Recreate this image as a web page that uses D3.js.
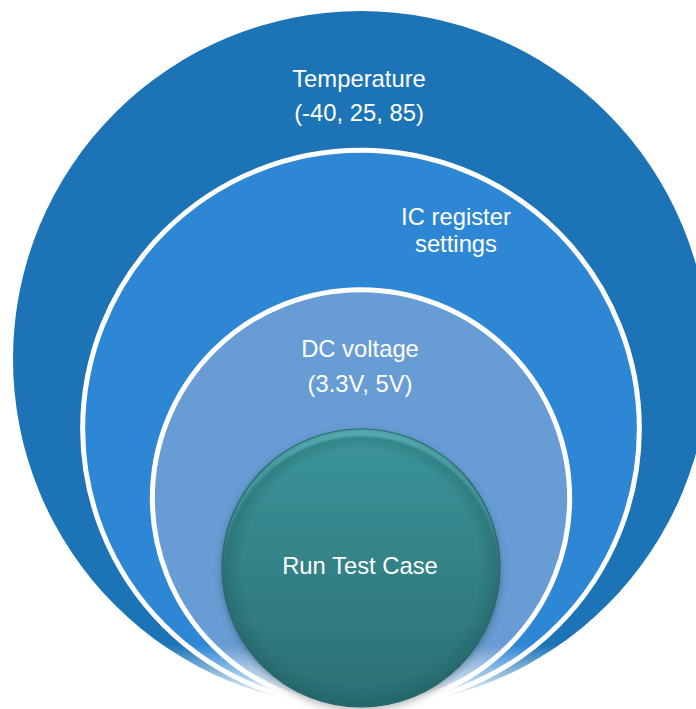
<!DOCTYPE html>
<html>
<head>
<meta charset="utf-8">
<script src="https://cdn.jsdelivr.net/npm/d3@7"></script>
<style>
  html, body { margin: 0; padding: 0; background: #ffffff; }
  svg { display: block; }
  text { font-family: "Liberation Sans", Arial, sans-serif; fill: #ffffff; }
</style>
</head>
<body>
<svg id="chart" width="696" height="709"></svg>
<script>
// Nested test scopes, outermost first
const levels = ["Temperature", "IC register settings", "DC voltage", "Run Test Case"];
const labelLines = [
  ["Temperature", "(-40, 25, 85)"],
  ["IC register", "settings"],
  ["DC voltage", "(3.3V, 5V)"],
  ["Run Test Case"]
];
const levelFills = ["#1c74b6", "#2e87d4", "#679cd4", "url(#tealFill)"];

const W = 696, H = 709;
const svg = d3.select("#chart");
const defs = svg.append("defs");

// depth index -> circle radius (all circles share the same bottom tangent point)
const rScale = d3.scaleLinear().domain([0, levels.length - 1]).range([348, 139]);
const cx = 361, bottomY = 707;

// teal body gradient
const tg = defs.append("linearGradient").attr("id", "tealFill")
  .attr("x1", 0).attr("y1", 0).attr("x2", 0).attr("y2", 1);
tg.append("stop").attr("offset", "0%").attr("stop-color", "#3b9499");
tg.append("stop").attr("offset", "100%").attr("stop-color", "#2b6f73");

// bright rim along the top edge of the centre disc
const rg = defs.append("linearGradient").attr("id", "rimFill")
  .attr("x1", 0).attr("y1", 0).attr("x2", 0).attr("y2", 1);
rg.append("stop").attr("offset", "0%").attr("stop-color", "#74d6dc").attr("stop-opacity", 1);
rg.append("stop").attr("offset", "35%").attr("stop-color", "#5cc0c6").attr("stop-opacity", 0.6);
rg.append("stop").attr("offset", "60%").attr("stop-color", "#3c969b").attr("stop-opacity", 0);

// soft edge darkening of the centre disc
const eg = defs.append("radialGradient").attr("id", "edgeShade")
  .attr("cx", "50%").attr("cy", "50%").attr("r", "50%");
eg.append("stop").attr("offset", "85%").attr("stop-color", "#1d5a5e").attr("stop-opacity", 0);
eg.append("stop").attr("offset", "100%").attr("stop-color", "#1d5a5e").attr("stop-opacity", 0.45);

// white fade over the lower tips of the rings
const fg = defs.append("linearGradient").attr("id", "bottomFade")
  .attr("gradientUnits", "userSpaceOnUse")
  .attr("x1", 0).attr("y1", 645).attr("x2", 0).attr("y2", 700);
fg.append("stop").attr("offset", "0%").attr("stop-color", "#ffffff").attr("stop-opacity", 0);
fg.append("stop").attr("offset", "100%").attr("stop-color", "#ffffff").attr("stop-opacity", 1);

const shadow = defs.append("filter").attr("id", "dropShadow")
  .attr("x", "-20%").attr("y", "-20%").attr("width", "140%").attr("height", "140%");
shadow.append("feDropShadow").attr("dx", 0).attr("dy", 3).attr("stdDeviation", 4)
  .attr("flood-color", "#000").attr("flood-opacity", 0.3);

const soft = defs.append("filter").attr("id", "soft");
soft.append("feGaussianBlur").attr("stdDeviation", 1.2);

const nodes = levels.map((name, i) => {
  const r = rScale(i);
  return { name, i, r, cy: bottomY - r, lines: labelLines[i], fill: levelFills[i] };
});

const blues = nodes.slice(0, 3);
const core = nodes[3];

svg.append("g").selectAll("circle").data(blues).join("circle")
  .attr("cx", cx).attr("cy", d => d.cy).attr("r", d => d.r)
  .attr("fill", d => d.fill)
  .attr("stroke", "#ffffff").attr("stroke-width", d => d.i === 0 ? 0 : 5);

svg.append("rect")
  .attr("x", 0).attr("y", 645).attr("width", W).attr("height", H - 645)
  .attr("fill", "url(#bottomFade)");

// centre disc
defs.append("clipPath").attr("id", "coreClip")
  .append("circle").attr("cx", cx).attr("cy", core.cy).attr("r", core.r);

const coreG = svg.append("g");
coreG.append("circle")
  .attr("cx", cx).attr("cy", core.cy).attr("r", core.r)
  .attr("fill", core.fill).attr("filter", "url(#dropShadow)");
const inner = coreG.append("g").attr("clip-path", "url(#coreClip)");
inner.append("circle")
  .attr("cx", cx).attr("cy", core.cy).attr("r", core.r)
  .attr("fill", "url(#rimFill)");
inner.append("circle")
  .attr("cx", cx).attr("cy", core.cy + 6).attr("r", core.r - 1)
  .attr("fill", "url(#tealFill)").attr("filter", "url(#soft)");
inner.append("circle")
  .attr("cx", cx).attr("cy", core.cy).attr("r", core.r)
  .attr("fill", "url(#edgeShade)");
coreG.append("circle")
  .attr("cx", cx).attr("cy", core.cy).attr("r", core.r)
  .attr("fill", "none").attr("stroke", "#2a6a6f").attr("stroke-width", 1.2);

// labels
const labelPos = [
  { x: 359, y: 86.5, dy: 34 },
  { x: 456, y: 225, dy: 27 },
  { x: 360, y: 357, dy: 35 },
  { x: 360, y: 574, dy: 0 }
];

const labels = svg.append("g").selectAll("text").data(nodes).join("text")
  .attr("text-anchor", "middle")
  .attr("font-size", 23.8)
  .attr("x", d => labelPos[d.i].x)
  .attr("y", d => labelPos[d.i].y);
labels.selectAll("tspan").data(d => d.lines.map((t, k) => ({ t, k, p: labelPos[d.i] }))).join("tspan")
  .attr("x", d => d.p.x)
  .attr("y", d => d.p.y + d.k * d.p.dy)
  .text(d => d.t);
</script>
</body>
</html>
